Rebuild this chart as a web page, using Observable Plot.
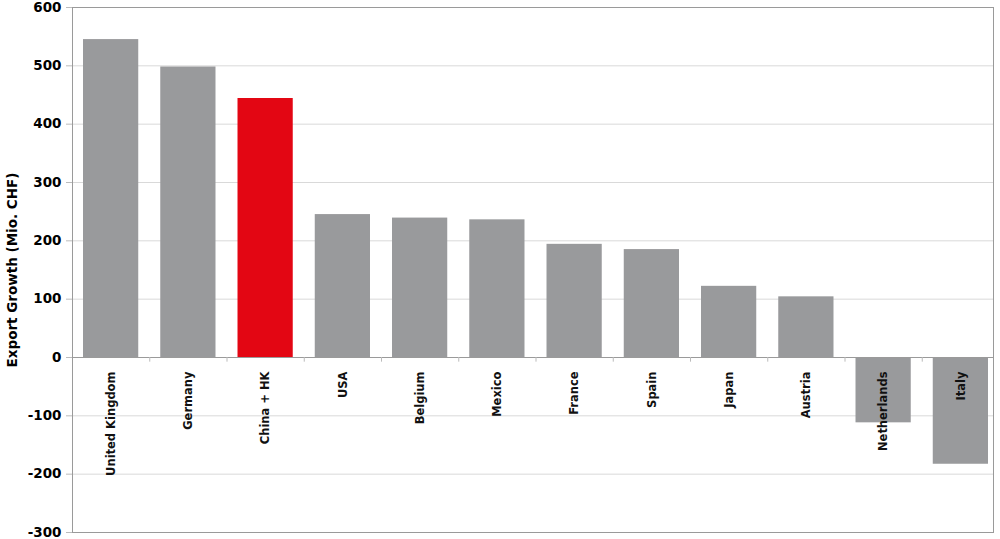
<!DOCTYPE html>
<html>
<head>
<meta charset="utf-8">
<script src="https://cdn.jsdelivr.net/npm/d3@7"></script>
<script src="https://cdn.jsdelivr.net/npm/@observablehq/plot@0.6"></script>
<style>
  html, body { margin: 0; padding: 0; background: #fff; }
  #chart svg { display: block; }
</style>
</head>
<body>
<div id="chart"></div>
<script>
const countries = ["United Kingdom", "Germany", "China + HK", "USA", "Belgium", "Mexico", "France", "Spain", "Japan", "Austria", "Netherlands", "Italy"];
const growth = [545, 498, 444, 245, 239, 236, 194, 185, 122, 104, -112, -183];
const highlight = "China + HK";
const yTicks = [-300, -200, -100, 0, 100, 200, 300, 400, 500, 600];

const data = countries.map((c, i) => ({country: c, value: growth[i]}));

const W = 1000, H = 539, mL = 72, mR = 1;
const step = (W - mL - mR) / countries.length;

const chart = Plot.plot({
  width: W,
  height: H,
  marginLeft: mL,
  marginRight: mR,
  marginTop: 7,
  marginBottom: 7,
  style: {fontFamily: "'DejaVu Sans', Verdana, sans-serif", fontWeight: "bold", color: "#000", background: "#fff"},
  x: {domain: countries, paddingInner: 0.285, paddingOuter: 0.1425, round: false, axis: null},
  y: {domain: [-300, 600], ticks: yTicks},
  marks: [
    Plot.gridY(yTicks, {stroke: "#d9d9d9", strokeOpacity: 1, insetRight: 6}),
    Plot.axisY(yTicks, {
      tickSize: 6, tickPadding: 5, fontSize: 13.5, stroke: "#bbb",
      tickFormat: d => String(d),
      label: "Export Growth (Mio. CHF)", labelAnchor: "center", labelArrow: "none", labelOffset: 65
    }),
    Plot.barY(data, {x: "country", y: "value", fill: d => d.country === highlight ? "#e30613" : "#999a9c"}),
    Plot.ruleY([0], {stroke: "#9a9a9a", insetRight: 6}),
    Plot.ruleX(countries.slice(1), {x: d => d, dx: -step / 2, y1: 0, y2: -8, stroke: "#bbb"}),
    Plot.text(countries, {
      x: d => d, y: 0, text: d => d, rotate: -90, textAnchor: "end", lineAnchor: "middle",
      dy: 14, fontSize: 11.5, fontWeight: "bold", fill: "#111"
    }),
    Plot.frame({stroke: "#9a9a9a", insetRight: 6})
  ]
});
document.getElementById("chart").appendChild(chart);
</script>
</body>
</html>
